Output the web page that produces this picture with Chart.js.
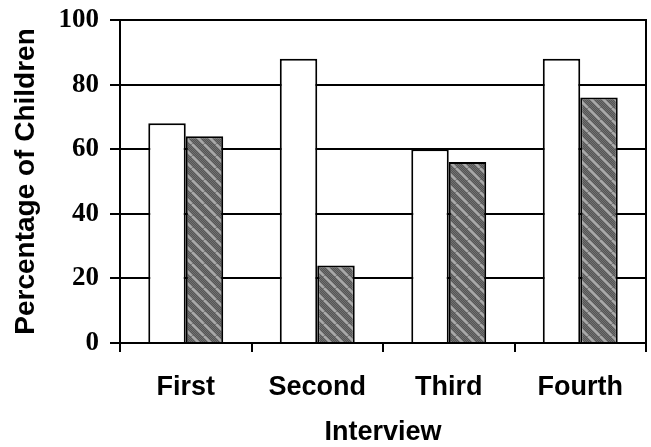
<!DOCTYPE html>
<html>
<head>
<meta charset="utf-8">
<script src="https://cdn.jsdelivr.net/npm/chart.js@4/dist/chart.umd.min.js"></script>
<style>
  html, body { margin: 0; padding: 0; background: #fff; }
  #wrap { width: 651px; height: 447px; position: relative; }
</style>
</head>
<body>
<div id="wrap"><canvas id="c" width="651" height="447"></canvas></div>
<script>
const categories = ["First", "Second", "Third", "Fourth"];
const seriesWhite = [68, 88, 60, 88];
const seriesHatched = [64, 24, 56, 76];
const yTicks = [0, 20, 40, 60, 80, 100];
const xTitle = "Interview";
const yTitle = "Percentage of Children";

function makePattern() {
  const s = 12;
  const pc = document.createElement('canvas');
  pc.width = s; pc.height = s;
  const p = pc.getContext('2d');
  p.fillStyle = '#555';
  p.fillRect(0, 0, s, s);
  p.fillStyle = '#707070';
  for (let y = 0; y < s; y++) for (let x = (y % 2); x < s; x += 2) p.fillRect(x, y, 1, 1);
  p.strokeStyle = '#aaaaaa';
  p.lineWidth = 2.5;
  for (const o of [-s, 0, s]) {
    p.beginPath();
    p.moveTo(o, 0);
    p.lineTo(o + s, s);
    p.stroke();
  }
  return p.createPattern(pc, 'repeat');
}

const ctx = document.getElementById('c').getContext('2d');
const hatch = makePattern();

new Chart(ctx, {
  type: 'bar',
  data: {
    labels: categories,
    datasets: [
      { data: seriesWhite, backgroundColor: '#ffffff', borderColor: '#000', borderWidth: 2, borderSkipped: 'bottom',
        categoryPercentage: 0.57, barPercentage: 1.0 },
      { data: seriesHatched, backgroundColor: hatch, borderColor: '#000', borderWidth: 2, borderSkipped: 'bottom',
        categoryPercentage: 0.57, barPercentage: 1.0 }
    ]
  },
  options: {
    responsive: false,
    animation: false,
    layout: { padding: { top: 20, right: 5, left: 0, bottom: 0 } },
    plugins: { legend: { display: false }, tooltip: { enabled: false } },
    scales: {
      x: {
        grid: { offset: true, drawOnChartArea: false, drawTicks: true, tickLength: 9, color: '#000', lineWidth: 2 },
        border: { display: true, color: '#000', width: 2 },
        ticks: { color: '#000', padding: 19, maxRotation: 0,
          font: { family: 'Liberation Sans', weight: 'bold', size: 27 } },
        title: { display: true, text: xTitle, color: '#000', padding: { top: 0, bottom: -2 },
          font: { family: 'Liberation Sans', weight: 'bold', size: 27 } },
        afterFit(scale) { scale.height = 104; scale.paddingLeft = 0; scale.paddingRight = 0; }
      },
      y: {
        min: 0, max: 100,
        afterBuildTicks(scale) { scale.ticks = yTicks.map(v => ({ value: v })); },
        grid: { color: '#000', lineWidth: 2, tickLength: 10, drawTicks: true },
        border: { display: true, color: '#000', width: 2 },
        ticks: { color: '#000', padding: 11,
          font: { family: 'Liberation Serif', weight: 'bold', size: 27 } },
        title: { display: true, text: yTitle, color: '#000', padding: { top: 9, bottom: 0 },
          font: { family: 'Liberation Sans', weight: 'bold', size: 28 } },
        afterFit(scale) { scale.width = 120; scale.paddingTop = 0; scale.paddingBottom = 0; }
      },
      y2: {
        position: 'right', min: 0, max: 100,
        grid: { drawOnChartArea: false, drawTicks: false },
        border: { display: true, color: '#000', width: 2 },
        ticks: { display: false },
        afterFit(scale) { scale.width = 0; scale.paddingTop = 0; scale.paddingBottom = 0; }
      }
    }
  }
});
</script>
</body>
</html>
